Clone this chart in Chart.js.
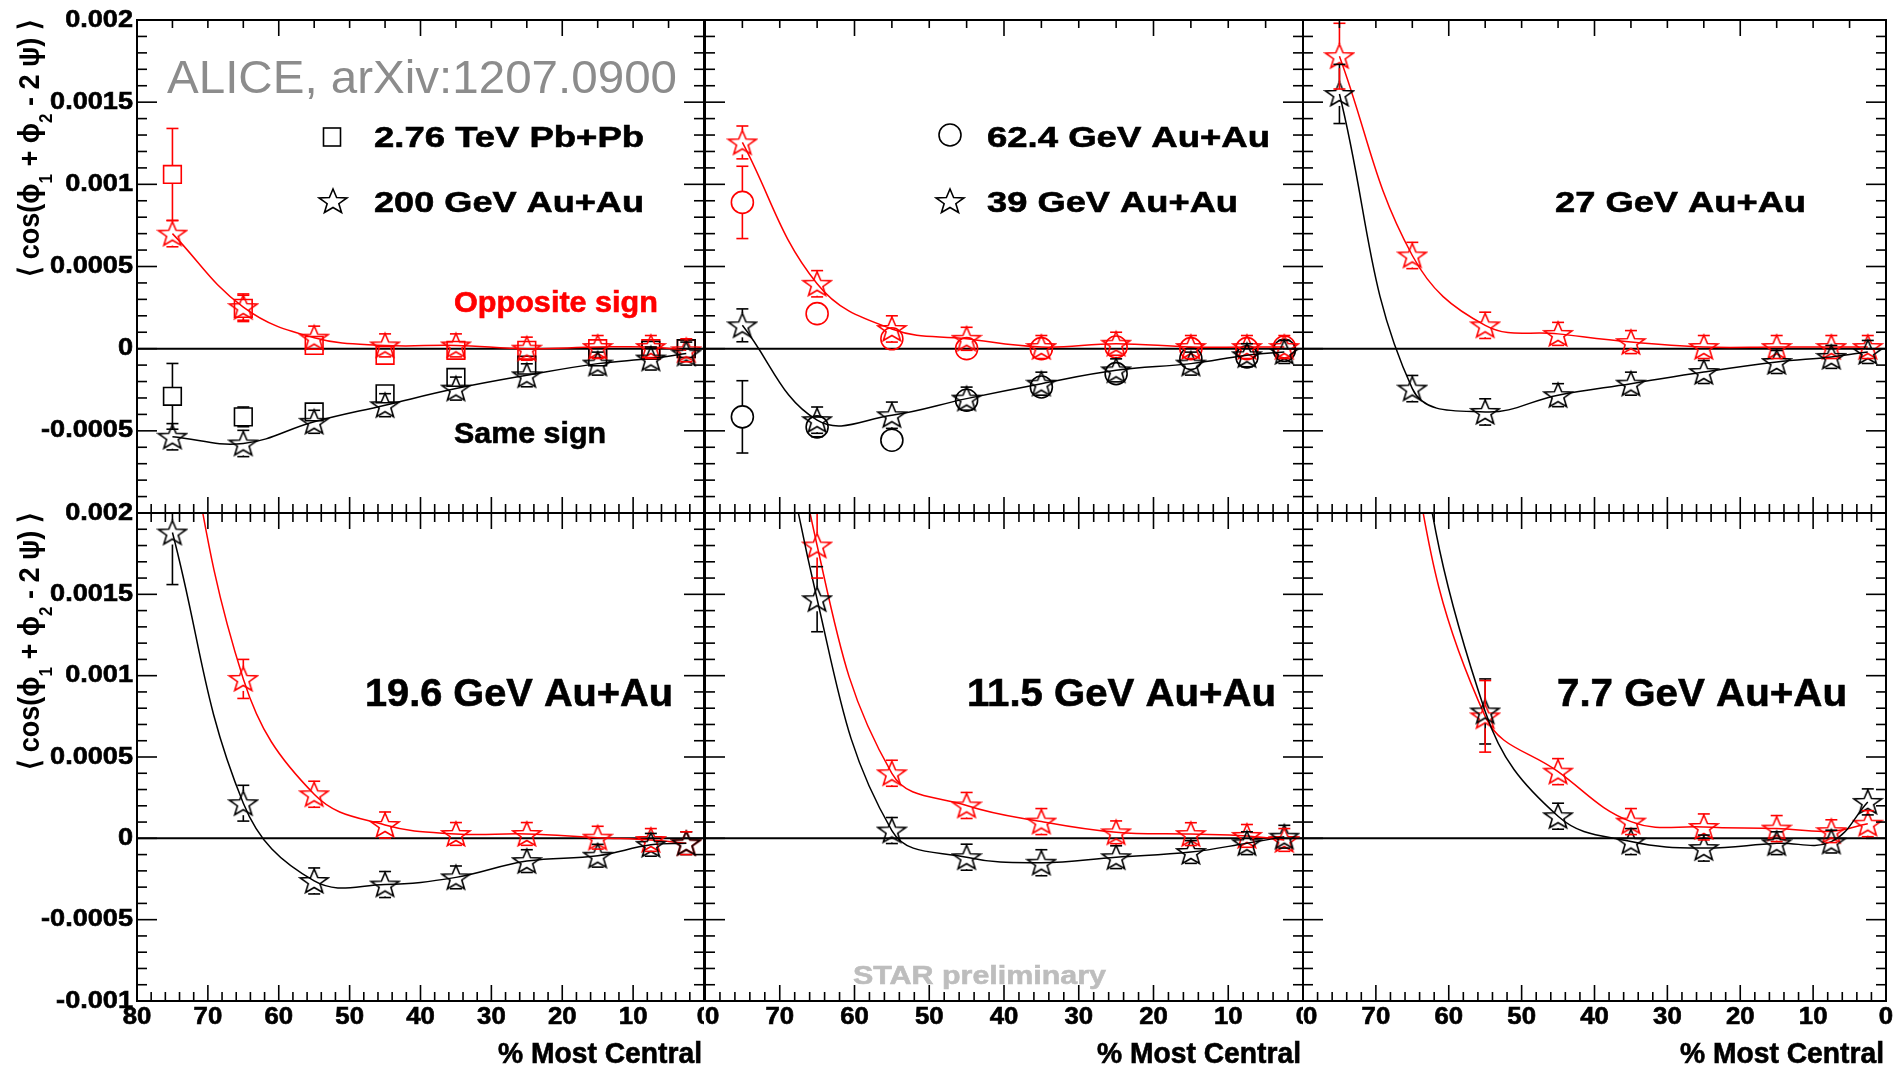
<!DOCTYPE html>
<html>
<head>
<meta charset="utf-8">
<script src="https://cdn.jsdelivr.net/npm/chart.js@4.4.0/dist/chart.umd.min.js"></script>
<style>
  html, body { margin: 0; padding: 0; background: #fff; overflow: hidden; }
  canvas { position: absolute; left: 0; top: 0; }
</style>
</head>
<body>
<canvas id="p1" width="1901" height="1067"></canvas>
<canvas id="p2" width="1901" height="1067"></canvas>
<canvas id="p3" width="1901" height="1067"></canvas>
<canvas id="p4" width="1901" height="1067"></canvas>
<canvas id="p5" width="1901" height="1067"></canvas>
<canvas id="p6" width="1901" height="1067"></canvas>
<script>
// centrality bins (% most central)
const centrality = [75, 65, 55, 45, 35, 25, 15, 7.5, 2.5];

// 2.76 TeV Pb+Pb (ALICE) - squares
const aliceOpp = [0.00106, 0.000245, 0.00002, -0.00004, -0.00001, -0.00001, 0.0, 0.0, 0.0];
const aliceOppErr = [0.00028, 0.00008, 0, 0, 0, 0, 0, 0, 0];
const aliceSame = [-0.00029, -0.000415, -0.000385, -0.000275, -0.000175, -0.0001, -0.00005, -0.00001, 0.0];
const aliceSameErr = [0.0002, 0.00006, 0, 0, 0, 0, 0, 0, 0];

// 200 GeV Au+Au - stars
const opp200 = [0.0007, 0.000253, 0.000067, 0.00002, 0.00002, 0.0, 0.00001, 0.00001, -0.00001];
const opp200Err = [0.00008, 0.00008, 0.00007, 0.00007, 0.00007, 0.00007, 0.00007, 0.00007, 0.00007];
const same200 = [-0.000536, -0.000577, -0.000445, -0.000344, -0.000243, -0.000162, -0.000091, -0.00006, -0.00003];
const same200Err = [0.00008, 0.00008, 0.00007, 0.00007, 0.00007, 0.00007, 0.00007, 0.00007, 0.00007];

// 62.4 GeV Au+Au - circles
const opp62 = [0.00089, 0.000213, 0.00006, 0.0, 0.0, 0.00001, 0.0, 0.0, 0.00001];
const opp62Err = [0.00022, 0, 0, 0, 0, 0, 0, 0, 0];
const same62 = [-0.000415, -0.000476, -0.000557, -0.000314, -0.000233, -0.000152, -0.00006, -0.00005, -0.00001];
const same62Err = [0.00022, 0.00006, 0, 0, 0, 0, 0, 0, 0];

// 39 GeV Au+Au - stars
const opp39 = [0.001255, 0.000395, 0.00012, 0.00006, 0.00001, 0.00003, 0.00001, 0.00001, 0.00001];
const opp39Err = [0.0001, 0.00008, 0.00008, 0.00007, 0.00007, 0.00007, 0.00007, 0.00007, 0.00007];
const same39 = [0.000142, -0.000435, -0.000405, -0.000304, -0.000213, -0.000132, -0.000091, -0.00004, -0.00002];
const same39Err = [0.0001, 0.00008, 0.00008, 0.00007, 0.00007, 0.00007, 0.00007, 0.00007, 0.00007];

// 27 GeV Au+Au
const opp27 = [0.00178, 0.000567, 0.000142, 0.00009, 0.00004, 0.00001, 0.00001, 0.00001, 0.00001];
const opp27Err = [0.0002, 0.00008, 0.00008, 0.00007, 0.00007, 0.00007, 0.00007, 0.00007, 0.00007];
const same27 = [0.00155, -0.000243, -0.000385, -0.000283, -0.000213, -0.000142, -0.000081, -0.00005, -0.00002];
const same27Err = [0.00018, 0.00008, 0.00008, 0.00007, 0.00007, 0.00007, 0.00007, 0.00007, 0.00007];

// 19.6 GeV Au+Au
const opp19 = [0.003, 0.00098, 0.000271, 0.000082, 0.000027, 0.000027, 0.000004, -0.00001, -0.00003];
const opp19Err = [0.0003, 0.00012, 0.00008, 0.00008, 0.00007, 0.00007, 0.00007, 0.00007, 0.00007];
const same19 = [0.00188, 0.000216, -0.000262, -0.000284, -0.00024, -0.00014, -0.000107, -0.00004, -0.00003];
const same19Err = [0.00032, 0.00011, 0.00008, 0.00008, 0.00007, 0.00007, 0.00007, 0.00007, 0.00007];

// 11.5 GeV Au+Au
const opp11 = [0.0045, 0.0018, 0.0004, 0.000202, 0.000103, 0.000037, 0.000026, 0.000015, -0.00001];
const opp11Err = [0.0005, 0.0002, 0.00008, 0.00008, 0.00008, 0.00007, 0.00007, 0.00007, 0.00007];
const same11 = [0.004, 0.00147, 0.000048, -0.000116, -0.00015, -0.000116, -0.000084, -0.00003, 0.00001];
const same11Err = [0.0005, 0.0002, 0.00008, 0.00008, 0.00008, 0.00007, 0.00007, 0.00007, 0.00007];

// 7.7 GeV Au+Au
const opp7 = [0.0065, 0.0024, 0.00075, 0.00041, 0.000103, 0.00007, 0.00006, 0.000044, 0.00009];
const opp7Err = [0.0008, 0.0004, 0.00022, 0.00008, 0.00008, 0.00008, 0.00008, 0.00007, 0.00008];
const same7 = [0.0075, 0.0028, 0.00078, 0.000136, -0.00002, -0.00006, -0.00003, -0.00002, 0.000224];
const same7Err = [0.0008, 0.0004, 0.0002, 0.00008, 0.00008, 0.00008, 0.00007, 0.00007, 0.00008];

// axis ticks
const yTickValues = [0.002, 0.0015, 0.001, 0.0005, 0, -0.0005, -0.001];
const yTickLabels = ['0.002', '0.0015', '0.001', '0.0005', '0', '-0.0005', '-0.001'];
const xTickValues = [80, 70, 60, 50, 40, 30, 20, 10, 0];
const xTickLabels = ['80', '70', '60', '50', '40', '30', '20', '10', '0'];

const W = 1901, H = 1067;
const FONT = '"Liberation Sans", Arial, Helvetica, sans-serif';
const RED = '#ff0000', BLACK = '#000000';

// open 5-point star marker (ROOT style)
function makeStar(color) {
    const c = document.createElement('canvas');
    c.width = 32; c.height = 30;
    const g = c.getContext('2d');
    g.strokeStyle = color;
    g.lineWidth = 1.6;
    g.beginPath();
    for (let k = 0; k < 10; k++) {
        const r = k % 2 === 0 ? 13 : 5.5;
        const a = -Math.PI / 2 + k * Math.PI / 5;
        const px = 16 + r * 1.12 * Math.cos(a), py = 16 + r * Math.sin(a);
        if (k === 0) g.moveTo(px, py); else g.lineTo(px, py);
    }
    g.closePath();
    g.stroke();
    return c;
}
const stars = { [RED]: makeStar(RED), [BLACK]: makeStar(BLACK) };

function points(vals) {
    return centrality.map((c, i) => ({ x: c, y: vals[i] }));
}

function starSet(vals, errs, color) {
    return {
        data: points(vals), errors: errs, markerHalf: 12,
        showLine: true, tension: 0.4, borderColor: color, borderWidth: 1.5,
        pointStyle: stars[color], pointRadius: 13
    };
}

function markSet(vals, errs, color, style) {
    return {
        data: points(vals), errors: errs, markerHalf: style === 'rect' ? 9 : 11,
        showLine: false, borderColor: color,
        pointStyle: style, pointRadius: style === 'rect' ? 12.5 : 11,
        pointBorderColor: color, pointBackgroundColor: 'rgba(0,0,0,0)', pointBorderWidth: 1.6
    };
}

function drawText(ctx, t) {
    ctx.save();
    const bold = t.bold !== false;
    ctx.font = (bold ? 'bold ' : '') + t.size + 'px ' + FONT;
    ctx.fillStyle = t.color || BLACK;
    ctx.strokeStyle = t.color || BLACK;
    ctx.lineWidth = 0.6;
    ctx.textBaseline = t.baseline || 'alphabetic';
    ctx.textAlign = 'left';
    const mw = ctx.measureText(t.s).width;
    const sx = t.w ? t.w / mw : (t.stretch || 1);
    let x = t.x;
    if (t.align === 'right') x -= mw * sx;
    else if (t.align === 'center') x -= mw * sx / 2;
    ctx.translate(x, t.y);
    ctx.scale(sx, 1);
    ctx.fillText(t.s, 0, 0);
    if (bold) ctx.strokeText(t.s, 0, 0);
    ctx.restore();
}

function drawYTitle(ctx, xBase, yTop, len) {
    const pieces = [['\u27E8 cos(\u03D5', false], ['1', true], [' + \u03D5', false], ['2', true], [' - 2 \u03C8) \u27E9', false]];
    ctx.save();
    let total = 0;
    const widths = pieces.map(p => {
        ctx.font = 'bold ' + (p[1] ? 15 : 24) + 'px ' + FONT;
        const w = ctx.measureText(p[0]).width;
        total += w;
        return w;
    });
    ctx.translate(xBase, yTop + len);
    ctx.rotate(-Math.PI / 2);
    ctx.scale(len / total, 1.2);
    ctx.fillStyle = BLACK;
    ctx.textBaseline = 'alphabetic';
    let pos = 0;
    pieces.forEach((p, i) => {
        ctx.font = 'bold ' + (p[1] ? 15 : 24) + 'px ' + FONT;
        ctx.fillText(p[0], pos, p[1] ? 11 : 0);
        pos += widths[i];
    });
    ctx.restore();
}

function drawLegendMark(ctx, m) {
    ctx.save();
    ctx.strokeStyle = BLACK;
    ctx.lineWidth = 1.6;
    if (m.type === 'star') {
        const img = stars[BLACK];
        ctx.drawImage(img, m.x - img.width / 2, m.y - img.height / 2);
    } else if (m.type === 'rect') {
        ctx.strokeRect(m.x - 8.5, m.y - 9, 17, 18);
    } else {
        ctx.beginPath();
        ctx.arc(m.x, m.y, 11, 0, Math.PI * 2);
        ctx.stroke();
    }
    ctx.restore();
}

function line(ctx, x1, y1, x2, y2) {
    ctx.beginPath();
    ctx.moveTo(x1, y1);
    ctx.lineTo(x2, y2);
    ctx.stroke();
}

function panelPlugin(cfg) {
    return {
        id: 'panel_' + cfg.id,
        beforeDatasetsDraw(chart) {
            const ctx = chart.ctx, a = chart.chartArea;
            const y0 = chart.scales.y.getPixelForValue(0);
            ctx.save();
            ctx.strokeStyle = BLACK;
            ctx.lineWidth = 2;
            line(ctx, a.left, y0, a.right, y0);
            ctx.restore();
        },
        afterDatasetsDraw(chart) {
            const ctx = chart.ctx, a = chart.chartArea;
            const xs = chart.scales.x, ys = chart.scales.y;
            ctx.save();
            ctx.beginPath();
            ctx.rect(a.left, a.top, a.right - a.left, a.bottom - a.top);
            ctx.clip();
            ctx.lineWidth = 1.6;
            chart.data.datasets.forEach(ds => {
                if (!ds.errors) return;
                ctx.strokeStyle = ds.borderColor;
                ds.data.forEach((p, j) => {
                    const e = ds.errors[j];
                    if (!e) return;
                    const px = xs.getPixelForValue(p.x);
                    const py = ys.getPixelForValue(p.y);
                    const top = ys.getPixelForValue(p.y + e);
                    const bot = ys.getPixelForValue(p.y - e);
                    const h = ds.markerHalf;
                    if (py - top > h) line(ctx, px, py - h, px, top);
                    if (bot - py > h) line(ctx, px, py + h, px, bot);
                    line(ctx, px - 6, top, px + 6, top);
                    line(ctx, px - 6, bot, px + 6, bot);
                });
            });
            ctx.restore();
        },
        afterDraw(chart) {
            const ctx = chart.ctx, a = chart.chartArea;
            const xs = chart.scales.x, ys = chart.scales.y;
            ctx.save();
            ctx.strokeStyle = BLACK;
            ctx.lineWidth = 1.6;
            // y ticks (left and right edges, inside)
            for (let i = -10; i <= 20; i++) {
                const y = ys.getPixelForValue(i * 0.0001);
                const len = i % 5 === 0 ? 20 : 10;
                line(ctx, a.left, y, a.left + len, y);
                line(ctx, a.right, y, a.right - len, y);
            }
            // x ticks bottom edge
            for (let v = 0; v <= 80; v += 2) {
                const x = xs.getPixelForValue(v);
                const len = v % 10 === 0 ? 16 : 9;
                line(ctx, x, a.bottom, x, a.bottom - len);
                if (cfg.row === 1) line(ctx, x, a.top, x, a.top + len);
            }
            if (cfg.row === 0) {
                for (let v = 0; v <= 80; v += 5) {
                    const x = xs.getPixelForValue(v);
                    const len = v % 20 === 0 ? 16 : 8;
                    line(ctx, x, a.top, x, a.top + len);
                }
            }
            // frame
            ctx.lineWidth = 2;
            ctx.strokeRect(a.left, a.top, a.right - a.left, a.bottom - a.top);
            ctx.restore();

            // y tick labels + title (left column)
            if (cfg.col === 0) {
                yTickValues.forEach((v, i) => {
                    if (cfg.row === 0 && v < -0.0009) return;
                    drawText(ctx, { s: yTickLabels[i], x: a.left - 4, y: ys.getPixelForValue(v), size: 24, stretch: 1.13, align: 'right', baseline: 'middle' });
                });
                drawYTitle(ctx, 39, a.top, 257);
            }
            // x tick labels (bottom row)
            if (cfg.row === 1) {
                ctx.save();
                const cl = cfg.col === 0 ? 0 : a.left;
                const cr = cfg.col === 2 ? W : a.right;
                ctx.beginPath();
                ctx.rect(cl, a.bottom, cr - cl, H - a.bottom);
                ctx.clip();
                xTickValues.forEach((v, i) => {
                    drawText(ctx, { s: xTickLabels[i], x: xs.getPixelForValue(v), y: 1024, size: 23, stretch: 1.12, align: 'center' });
                });
                ctx.restore();
                drawText(ctx, { s: '% Most Central', x: a.right - 2, y: 1063, size: 29, w: 204, align: 'right' });
            }
            (cfg.marks || []).forEach(m => drawLegendMark(ctx, m));
            (cfg.texts || []).forEach(t => drawText(ctx, t));
        }
    };
}

const panels = [
    {
        id: 'p1', rect: [137, 20, 704, 513], row: 0, col: 0,
        sets: [starSet(same200, same200Err, BLACK), starSet(opp200, opp200Err, RED),
               markSet(aliceSame, aliceSameErr, BLACK, 'rect'), markSet(aliceOpp, aliceOppErr, RED, 'rect')],
        marks: [{ type: 'rect', x: 332, y: 137 }, { type: 'star', x: 333, y: 201 }],
        texts: [
            { s: 'ALICE, arXiv:1207.0900', x: 167, y: 93, size: 46, w: 510, color: '#8c8c8c', bold: false },
            { s: '2.76 TeV Pb+Pb', x: 374, y: 147, size: 30, w: 270 },
            { s: '200 GeV Au+Au', x: 374, y: 212, size: 30, w: 270 },
            { s: 'Opposite sign', x: 454, y: 312, size: 29, w: 204, color: RED },
            { s: 'Same sign', x: 454, y: 443, size: 29, w: 152 }
        ]
    },
    {
        id: 'p2', rect: [705, 20, 1303, 513], row: 0, col: 1,
        sets: [starSet(same39, same39Err, BLACK), starSet(opp39, opp39Err, RED),
               markSet(same62, same62Err, BLACK, 'circle'), markSet(opp62, opp62Err, RED, 'circle')],
        marks: [{ type: 'circle', x: 950, y: 135 }, { type: 'star', x: 950, y: 201 }],
        texts: [
            { s: '62.4 GeV Au+Au', x: 987, y: 147, size: 30, w: 283 },
            { s: '39 GeV Au+Au', x: 987, y: 212, size: 30, w: 251 }
        ]
    },
    {
        id: 'p3', rect: [1303, 20, 1886, 513], row: 0, col: 2,
        sets: [starSet(same27, same27Err, BLACK), starSet(opp27, opp27Err, RED)],
        texts: [{ s: '27 GeV Au+Au', x: 1555, y: 212, size: 30, w: 251 }]
    },
    {
        id: 'p4', rect: [137, 513, 704, 1001], row: 1, col: 0,
        sets: [starSet(same19, same19Err, BLACK), starSet(opp19, opp19Err, RED)],
        texts: [{ s: '19.6 GeV Au+Au', x: 365, y: 706, size: 38, w: 308 }]
    },
    {
        id: 'p5', rect: [705, 513, 1303, 1001], row: 1, col: 1,
        sets: [starSet(same11, same11Err, BLACK), starSet(opp11, opp11Err, RED)],
        texts: [
            { s: '11.5 GeV Au+Au', x: 967, y: 706, size: 38, w: 309 },
            { s: 'STAR preliminary', x: 853, y: 984, size: 26, w: 253, color: '#bdbdbd' }
        ]
    },
    {
        id: 'p6', rect: [1303, 513, 1886, 1001], row: 1, col: 2,
        sets: [starSet(same7, same7Err, BLACK), starSet(opp7, opp7Err, RED)],
        texts: [{ s: '7.7 GeV Au+Au', x: 1557, y: 706, size: 38, w: 290 }]
    }
];

panels.forEach(cfg => {
    const [x0, y0, x1, y1] = cfg.rect;
    new Chart(document.getElementById(cfg.id), {
        type: 'scatter',
        data: { datasets: cfg.sets },
        options: {
            responsive: false,
            animation: false,
            devicePixelRatio: 1,
            events: [],
            layout: { padding: { left: x0, top: y0, right: W - x1, bottom: H - y1 } },
            scales: {
                x: { type: 'linear', min: 0, max: 80, reverse: true, display: false },
                y: { type: 'linear', min: -0.001, max: 0.002, display: false }
            },
            plugins: { legend: { display: false }, tooltip: { enabled: false } }
        },
        plugins: [panelPlugin(cfg)]
    });
});
</script>
</body>
</html>
